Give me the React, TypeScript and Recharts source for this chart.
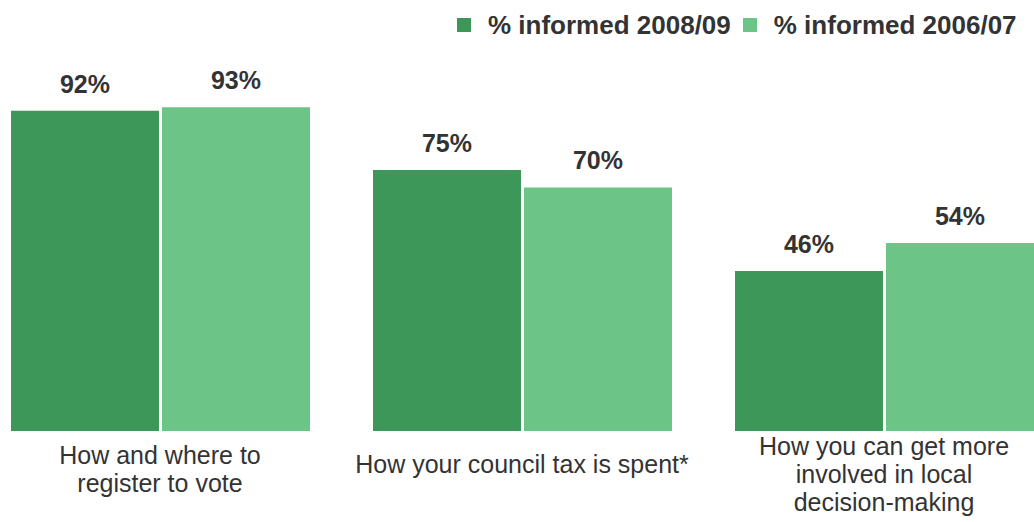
import React from "react";
import { BarChart, Bar, XAxis, YAxis, Legend, LabelList } from "recharts";

const categories = [
  "How and where to\nregister to vote",
  "How your council tax is spent*",
  "How you can get more\ninvolved in local\ndecision-making",
];
const informed0809 = [92, 75, 46];
const informed0607 = [93, 70, 54];
const seriesNames = ["% informed 2008/09", "% informed 2006/07"];

const DARK = "#3d9758";
const LIGHT = "#6cc586";
const TEXT = "#333333";
const FONT = "Arial, 'Liberation Sans', sans-serif";

const data = categories.map((c, i) => ({
  name: c,
  a: informed0809[i],
  b: informed0607[i],
}));

// multi-line category label, lines 28px apart
const WrapTick = ({ x, y, payload }: { x?: number; y?: number; payload?: { value: string } }) => {
  const lines = (payload?.value ?? "").split("\n");
  const first = (y ?? 0) + 42 - (lines.length - 1) * 9;
  return (
    <text x={x} y={first} textAnchor="middle" fill={TEXT} fontSize={25} fontFamily={FONT}>
      {lines.map((l, i) => (
        <tspan key={i} x={x} y={first + i * 28}>{l}</tspan>
      ))}
    </text>
  );
};

const LegendBox = () => (
  <div style={{ display: "flex", alignItems: "center", fontFamily: FONT, fontWeight: "bold", fontSize: 26, color: TEXT, lineHeight: "28px", whiteSpace: "nowrap" }}>
    {[DARK, LIGHT].map((c, i) => (
      <span key={i} style={{ display: "flex", alignItems: "center", marginRight: 12 }}>
        <span style={{ width: 14, height: 14, background: c, marginRight: 17, display: "inline-block" }} />
        {seriesNames[i]}
      </span>
    ))}
  </div>
);

export default function App() {
  return (
    <div style={{ position: "absolute", left: 0, top: 0, width: 1034, height: 522, overflow: "hidden", background: "#fff" }}>
      <div style={{ position: "absolute", left: -21, top: 0 }}>
        <BarChart width={1086} height={522} data={data} margin={{ top: 83, right: 0, bottom: 0, left: 0 }} barSize={148} barGap={3}>
          <XAxis dataKey="name" height={91} axisLine={false} tickLine={false} tickSize={0} tickMargin={0} interval={0} tick={<WrapTick />} />
          <YAxis hide domain={[0, 100]} />
          <Legend content={<LegendBox />} wrapperStyle={{ top: 11, left: 478, width: 620, height: 0, overflow: "visible" }} />
          <Bar dataKey="a" name={seriesNames[0]} fill={DARK} isAnimationActive={false}>
            <LabelList dataKey="a" position="top" offset={18} formatter={(v: number) => `${v}%`} fill={TEXT} fontSize={25} fontWeight="bold" fontFamily={FONT} />
          </Bar>
          <Bar dataKey="b" name={seriesNames[1]} fill={LIGHT} isAnimationActive={false}>
            <LabelList dataKey="b" position="top" offset={18} formatter={(v: number) => `${v}%`} fill={TEXT} fontSize={25} fontWeight="bold" fontFamily={FONT} />
          </Bar>
        </BarChart>
      </div>
    </div>
  );
}
